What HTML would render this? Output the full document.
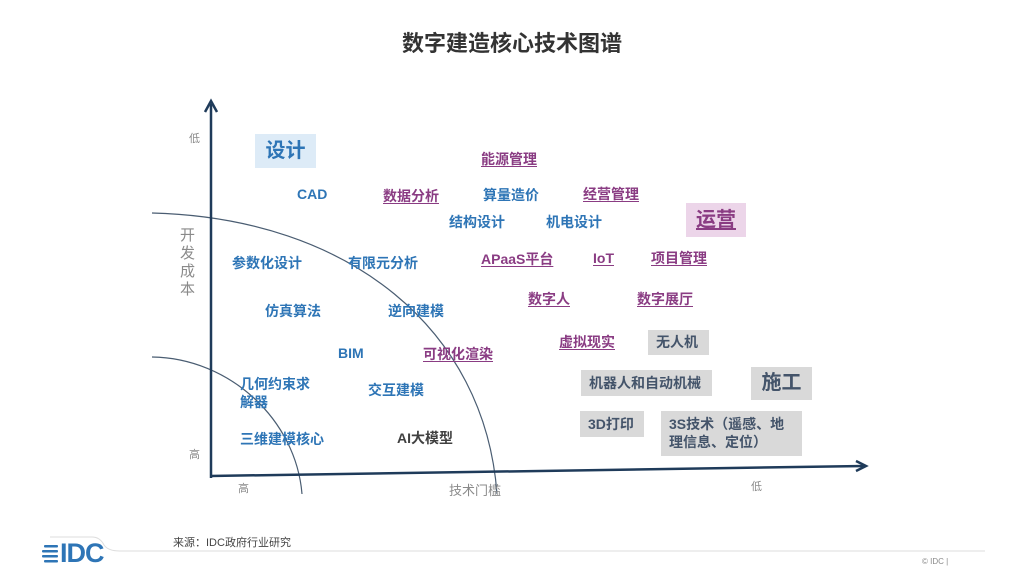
<!DOCTYPE html>
<html><head><meta charset="utf-8"><style>
body{margin:0;width:1024px;height:576px;background:#fff;position:relative;overflow:hidden;font-family:"Liberation Sans","Noto Sans CJK SC",sans-serif}
.t{position:absolute;font-size:14px;font-weight:bold;white-space:nowrap;line-height:18px}
.b{color:#2e75b6}
.p{color:#8a3c83;text-decoration:underline;text-decoration-thickness:1px;text-underline-offset:2px}
.g{color:#44546a;background:#d9d9d9;padding:0 8px}
.k{color:#404040}
.ax{position:absolute;color:#8a8a8a;font-size:11px}
</style></head><body>
<div class="t" style="left:0;width:1024px;top:31px;text-align:center;font-size:22px;line-height:26px;color:#333">数字建造核心技术图谱</div>
<svg style="position:absolute;left:0;top:0" width="1024" height="576">
<path d="M152,213 C350,218 485,330 497,494" fill="none" stroke="#4a5d72" stroke-width="1.2"/>
<path d="M152,357 C230,358 296,420 302,494" fill="none" stroke="#4a5d72" stroke-width="1.2"/>
<line x1="211" y1="478" x2="211" y2="104" stroke="#1f3b5a" stroke-width="2.5"/>
<path d="M205,112 L211,101 L217,112" fill="none" stroke="#1f3b5a" stroke-width="2.5"/>
<line x1="210" y1="476" x2="864" y2="466" stroke="#1f3b5a" stroke-width="2.5"/>
<path d="M856,461 L866,466 L856,471" fill="none" stroke="#1f3b5a" stroke-width="2.5"/>
<path d="M50,537 L92,537 Q100,537 104,545 Q108,551 120,551 L985,551" fill="none" stroke="#ddd" stroke-width="1"/>
<g fill="#2e75b6"><rect x="44" y="545" width="14" height="2.5" rx="1"/><rect x="42" y="550" width="16" height="2.5" rx="1"/><rect x="42" y="555" width="16" height="2.5" rx="1"/><rect x="44" y="560" width="14" height="2.5" rx="1"/></g>
</svg>
<div class="t" style="left:60px;top:538px;font-size:27px;line-height:30px;color:#2e75b6;font-weight:bold;letter-spacing:-1px">IDC</div>
<div class="ax" style="left:173px;top:534px;color:#444">来源：IDC政府行业研究</div>
<div class="ax" style="left:922px;top:557px;font-size:8px">© IDC |</div>
<div class="ax" style="left:189px;top:130px">低</div>
<div class="ax" style="left:189px;top:446px">高</div>
<div class="ax" style="left:180px;top:227px;font-size:15px;line-height:18px;width:16px">开发成本</div>
<div class="ax" style="left:238px;top:480px">高</div>
<div class="ax" style="left:449px;top:480px;font-size:13px">技术门槛</div>
<div class="ax" style="left:751px;top:478px">低</div>

<div class="t b" style="left:255px;top:134px;width:61px;height:34px;line-height:34px;background:#ddebf7;text-align:center;font-size:20px">设计</div>
<div class="t" style="left:686px;top:203px;width:60px;height:34px;line-height:34px;background:#ecd5e9;text-align:center;font-size:20px"><span class="p" style="text-decoration-thickness:1.5px">运营</span></div>
<div class="t g" style="left:751px;top:367px;width:45px;height:33px;line-height:33px;font-size:20px;text-align:center">施工</div>

<div class="t p" style="left:481px;top:150px">能源管理</div>
<div class="t b" style="left:297px;top:185px">CAD</div>
<div class="t p" style="left:383px;top:187px">数据分析</div>
<div class="t b" style="left:483px;top:186px">算量造价</div>
<div class="t p" style="left:583px;top:185px">经营管理</div>
<div class="t b" style="left:449px;top:213px">结构设计</div>
<div class="t b" style="left:546px;top:213px">机电设计</div>
<div class="t b" style="left:232px;top:254px">参数化设计</div>
<div class="t b" style="left:348px;top:254px">有限元分析</div>
<div class="t p" style="left:481px;top:250px">APaaS平台</div>
<div class="t p" style="left:593px;top:249px">IoT</div>
<div class="t p" style="left:651px;top:249px">项目管理</div>
<div class="t b" style="left:265px;top:302px">仿真算法</div>
<div class="t b" style="left:388px;top:302px">逆向建模</div>
<div class="t p" style="left:528px;top:290px">数字人</div>
<div class="t p" style="left:637px;top:290px">数字展厅</div>
<div class="t b" style="left:338px;top:344px">BIM</div>
<div class="t p" style="left:423px;top:345px">可视化渲染</div>
<div class="t p" style="left:559px;top:333px">虚拟现实</div>
<div class="t g" style="left:648px;top:330px;height:25px;line-height:25px;padding:0 11px 0 8px">无人机</div>
<div class="t b" style="left:240px;top:375px">几何约束求<br>解器</div>
<div class="t b" style="left:368px;top:381px">交互建模</div>
<div class="t g" style="left:581px;top:370px;height:26px;line-height:26px;padding:0 11px 0 8px">机器人和自动机械</div>
<div class="t g" style="left:580px;top:411px;height:26px;line-height:26px;padding:0 10px 0 8px">3D打印</div>
<div class="t g" style="left:661px;top:411px;width:125px;line-height:18px;padding-top:4px;height:41px;white-space:normal">3S技术（遥感、地理信息、定位）</div>
<div class="t b" style="left:240px;top:430px">三维建模核心</div>
<div class="t k" style="left:397px;top:429px">AI大模型</div>
</body></html>
